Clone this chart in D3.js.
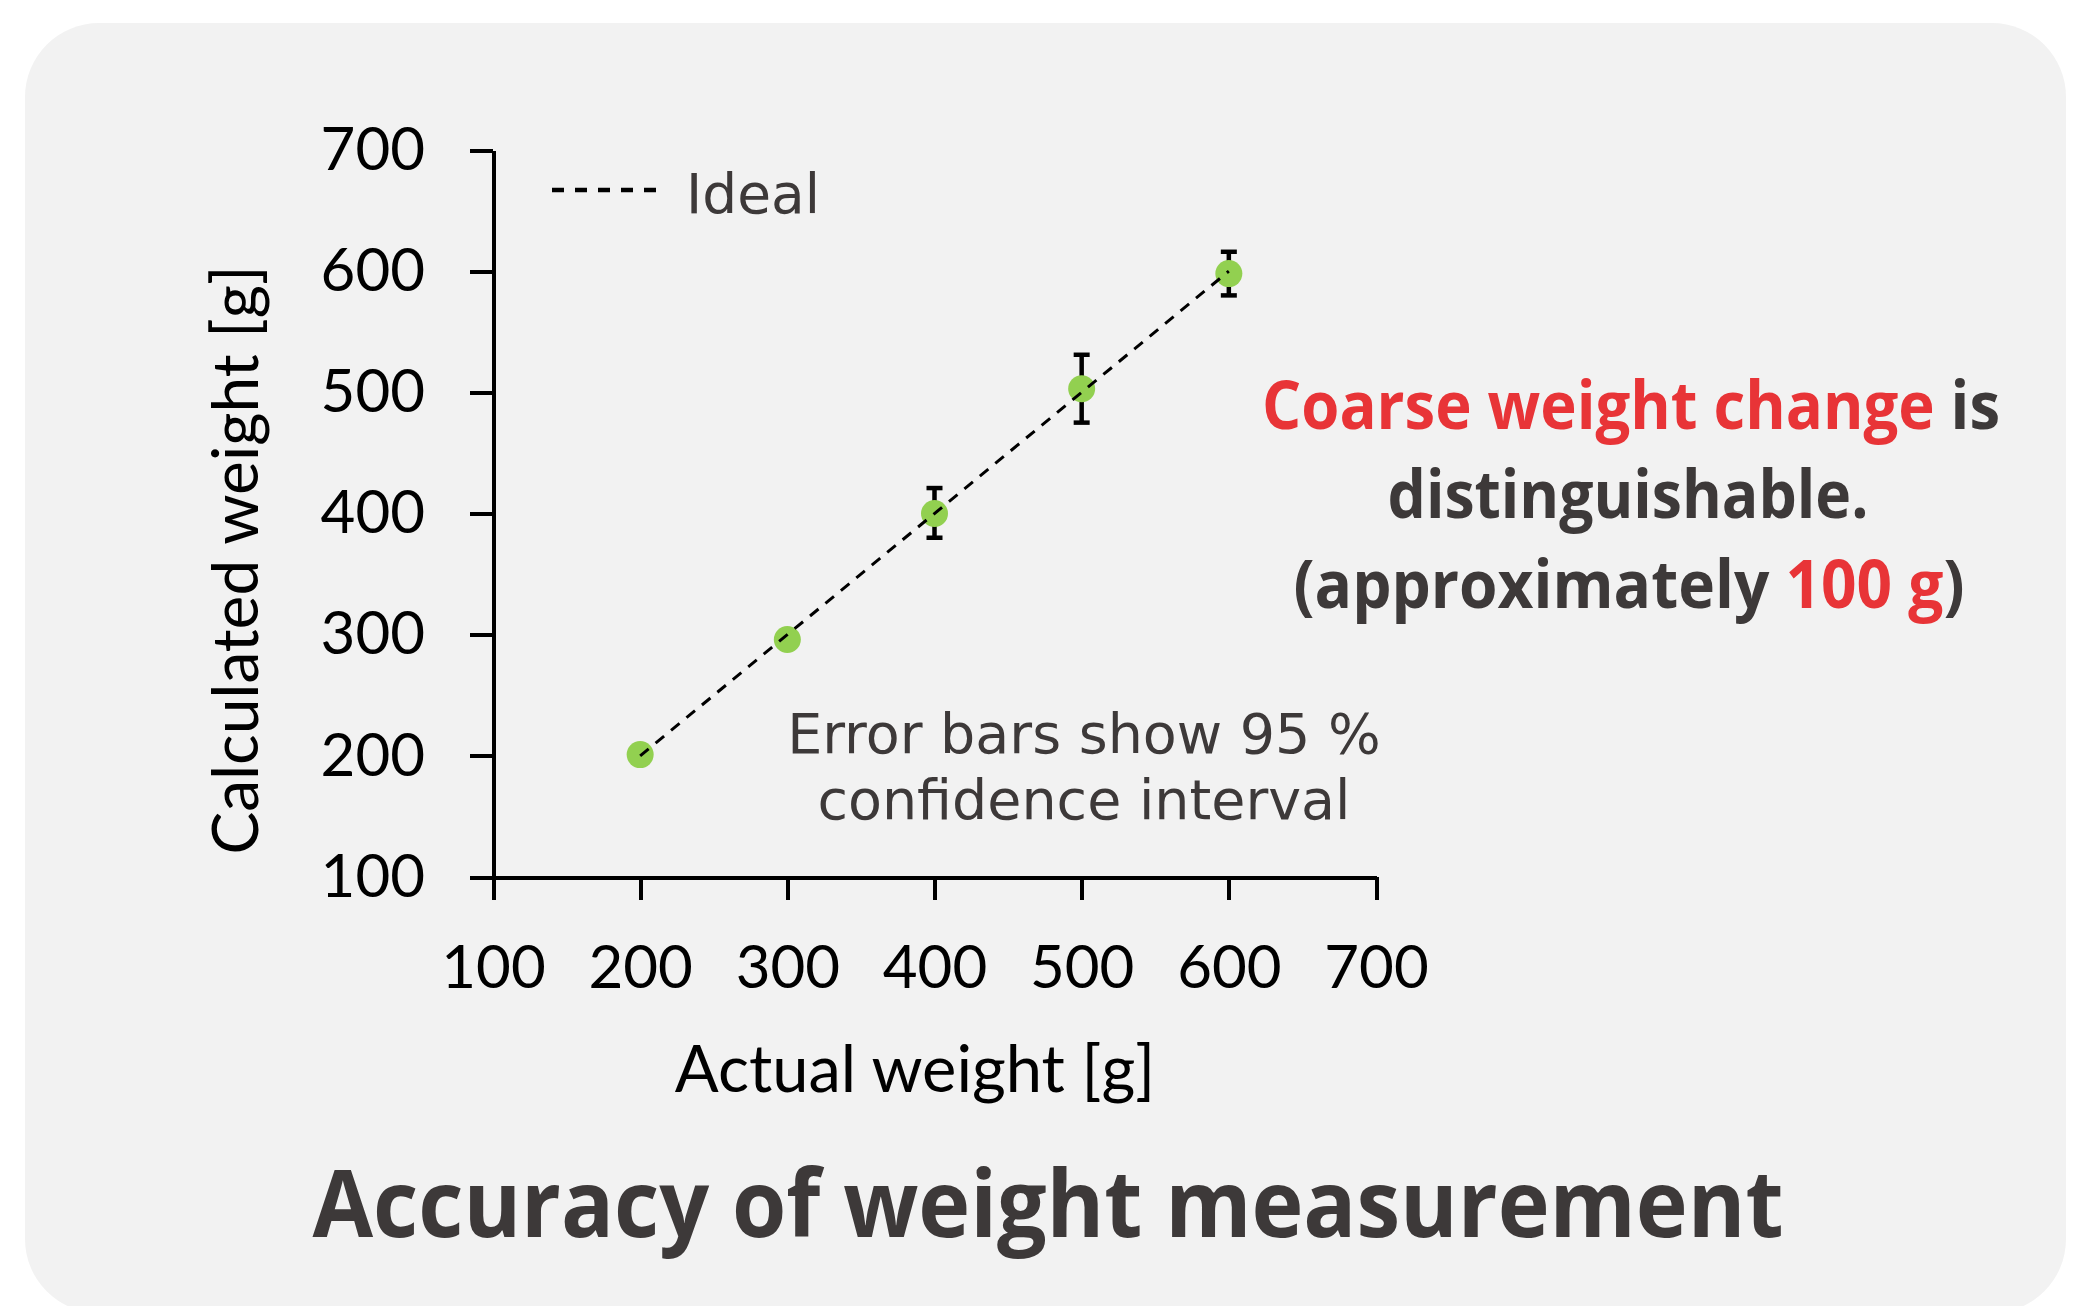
<!doctype html>
<html>
<head>
<meta charset="utf-8">
<title>Accuracy of weight measurement</title>
<script src="https://d3js.org/d3.v7.min.js"></script>
<style>
  body { margin: 0; background: #fff; }
  svg { display: block; }
  .axis path, .axis line { stroke: #000; stroke-width: 4; shape-rendering: crispEdges; }
  .axis text { font-family: Lato, "Liberation Sans", sans-serif; font-size: 60px; fill: #000; }
</style>
</head>
<body>
<script>
// data
var actualWeight = [200, 300, 400, 500, 600];
var calcWeight   = [201, 296, 400, 503, 598];
var ciLow        = [197, 292, 380, 475, 580];
var ciHigh       = [205, 300, 421, 531, 616];
var tickValues   = [100, 200, 300, 400, 500, 600, 700];

var width = 2089, height = 1306;
var green = "#92d050", red = "#e83437", dark = "#3d3939";

var svg = d3.select("body").append("svg").attr("width", width).attr("height", height);

// rounded grey panel
svg.append("rect")
  .attr("x", 25).attr("y", 23)
  .attr("width", 2041).attr("height", 1290)
  .attr("rx", 74).attr("ry", 74)
  .attr("fill", "#f2f2f2");

var x = d3.scaleLinear().domain([100, 700]).range([493, 1376]);
var y = d3.scaleLinear().domain([100, 700]).range([877, 150]);

var xaxis = d3.axisBottom(x).tickValues(tickValues).tickSize(23).tickSizeOuter(0).tickPadding(45);
var yaxis = d3.axisLeft(y).tickValues(tickValues).tickSize(23).tickSizeOuter(0).tickPadding(45);

svg.append("g").attr("class", "axis axis--x")
  .attr("transform", "translate(0," + y(100) + ")")
  .call(xaxis);
svg.append("g").attr("class", "axis axis--y")
  .attr("transform", "translate(" + x(100) + ",0)")
  .call(yaxis);
svg.selectAll(".axis path").attr("stroke-width", 4.5);

// axis titles
svg.append("text")
  .attr("x", 915).attr("y", 1092)
  .attr("text-anchor", "middle")
  .style("font-family", "Lato, sans-serif").style("font-size", "65px")
  .text("Actual weight [g]");

svg.append("text")
  .attr("transform", "translate(258,560) rotate(-90)")
  .attr("text-anchor", "middle")
  .style("font-family", "Lato, sans-serif").style("font-size", "64px")
  .text("Calculated weight [g]");

var pts = actualWeight.map(function(d, i) {
  return { a: d, c: calcWeight[i], lo: ciLow[i], hi: ciHigh[i] };
});

// error bars
var eb = svg.append("g").attr("stroke", "#000").attr("stroke-width", 4.5);
eb.selectAll("line.v").data(pts).enter().append("line").attr("class", "v")
  .attr("x1", function(d) { return x(d.a); }).attr("x2", function(d) { return x(d.a); })
  .attr("y1", function(d) { return y(d.lo); }).attr("y2", function(d) { return y(d.hi); });
eb.selectAll("line.top").data(pts).enter().append("line").attr("class", "top")
  .attr("x1", function(d) { return x(d.a) - 8; }).attr("x2", function(d) { return x(d.a) + 8; })
  .attr("y1", function(d) { return y(d.hi); }).attr("y2", function(d) { return y(d.hi); });
eb.selectAll("line.bot").data(pts).enter().append("line").attr("class", "bot")
  .attr("x1", function(d) { return x(d.a) - 8; }).attr("x2", function(d) { return x(d.a) + 8; })
  .attr("y1", function(d) { return y(d.lo); }).attr("y2", function(d) { return y(d.lo); });

// markers
svg.append("g").selectAll("circle").data(pts).enter().append("circle")
  .attr("cx", function(d) { return x(d.a); })
  .attr("cy", function(d) { return y(d.c); })
  .attr("r", 13.5)
  .attr("fill", green);

// ideal dashed line, from first to last actual weight
var ideal = d3.line().x(function(d) { return x(d); }).y(function(d) { return y(d); });
svg.append("path")
  .datum([actualWeight[0], actualWeight[actualWeight.length - 1]])
  .attr("d", ideal)
  .attr("fill", "none").attr("stroke", "#000")
  .attr("stroke-width", 3).attr("stroke-dasharray", "11 9");

// legend
svg.append("line")
  .attr("x1", 552).attr("x2", 656).attr("y1", 190).attr("y2", 190)
  .attr("stroke", "#000").attr("stroke-width", 4.5).attr("stroke-dasharray", "12 11");
svg.append("text")
  .attr("x", 686).attr("y", 213)
  .style("font-family", "'DejaVu Sans', sans-serif").style("font-size", "55px")
  .attr("fill", dark)
  .text("Ideal");

// error bar note
var note = svg.append("text")
  .attr("text-anchor", "middle")
  .style("font-family", "'DejaVu Sans', sans-serif").style("font-size", "55.5px")
  .attr("fill", dark);
note.append("tspan").attr("x", 1084).attr("y", 753).text("Error bars show 95 %");
note.append("tspan").attr("x", 1084).attr("y", 819).text("confidence interval");

// annotation on the right
var bold = "'Open Sans', 'Noto Sans', sans-serif";
var ann = svg.append("g")
  .style("font-family", bold).style("font-weight", "bold").style("font-size", "66px")
  .attr("text-anchor", "middle");

var l1 = ann.append("text").attr("x", 1631).attr("y", 429)
  .attr("textLength", 738).attr("lengthAdjust", "spacingAndGlyphs");
l1.append("tspan").attr("fill", red).text("Coarse weight change");
l1.append("tspan").attr("fill", dark).text(" is");

ann.append("text").attr("x", 1628).attr("y", 518)
  .attr("textLength", 481).attr("lengthAdjust", "spacingAndGlyphs")
  .attr("fill", dark).text("distinguishable.");

var l3 = ann.append("text").attr("x", 1629).attr("y", 608)
  .attr("textLength", 671).attr("lengthAdjust", "spacingAndGlyphs");
l3.append("tspan").attr("fill", dark).text("(approximately ");
l3.append("tspan").attr("fill", red).text("100 g");
l3.append("tspan").attr("fill", dark).text(")");

// title
svg.append("text")
  .attr("x", 1048).attr("y", 1237)
  .attr("text-anchor", "middle")
  .attr("textLength", 1471).attr("lengthAdjust", "spacingAndGlyphs")
  .style("font-family", bold).style("font-weight", "bold").style("font-size", "94px")
  .attr("fill", dark)
  .text("Accuracy of weight measurement");
</script>
</body>
</html>
